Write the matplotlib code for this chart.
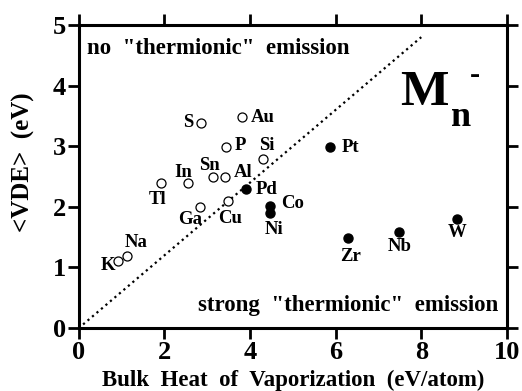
import numpy as np
import matplotlib
matplotlib.use('Agg')
from matplotlib import pyplot as plt

# open circles
open_names = ['K', 'Na', 'Tl', 'In', 'Ga', 'S', 'Sn', 'Al', 'Cu', 'P', 'Au', 'Si']
open_x = [0.92, 1.13, 1.91, 2.54, 2.82, 2.86, 3.14, 3.41, 3.49, 3.45, 3.82, 4.30]
open_y = [1.10, 1.19, 2.39, 2.39, 1.99, 3.38, 2.49, 2.49, 2.09, 2.99, 3.48, 2.79]

# filled circles
fill_names = ['Pd', 'Co', 'Ni', 'Pt', 'Zr', 'Nb', 'W']
fill_x = [3.91, 4.46, 4.46, 5.86, 6.30, 7.47, 8.83]
fill_y = [2.29, 2.01, 1.90, 2.99, 1.49, 1.59, 1.80]

# label positions
lab_pos = {
    'K': (0.68, 1.04), 'Na': (1.33, 1.41), 'Tl': (1.83, 2.12), 'In': (2.44, 2.57),
    'Sn': (3.06, 2.68), 'Al': (3.84, 2.57), 'Ga': (2.59, 1.79), 'Cu': (3.53, 1.81),
    'S': (2.55, 3.39), 'Au': (4.30, 3.48), 'P': (3.77, 3.02), 'Si': (4.40, 3.02),
    'Pd': (4.38, 2.29), 'Co': (4.99, 2.05), 'Ni': (4.55, 1.63), 'Pt': (6.35, 2.98),
    'Zr': (6.34, 1.18), 'Nb': (7.49, 1.35), 'W': (8.84, 1.57),
}

line_x = [0.1, 8.0]
line_y = [0.06, 4.8]

plt.rcParams['font.family'] = 'Liberation Serif'
plt.rcParams['font.weight'] = 'bold'

fig = plt.figure(figsize=(5.22, 3.91), dpi=100)
ax = fig.add_axes([0.151, 0.161, 0.820, 0.775])

ax.plot(line_x, line_y, color='black', linestyle=':', lw=1.6)
ax.plot(open_x, open_y, 'o', mfc='white', mec='black', ms=6.5, mew=0.9)
ax.plot(fill_x, fill_y, 'o', mfc='black', mec='black', ms=6.5)

for name, (lx, ly) in lab_pos.items():
    ax.text(lx, ly, name, fontsize=13.5, fontweight='bold', ha='center', va='center')

ax.text(0.19, 4.62, 'no  "thermionic"  emission', fontsize=16.5, fontweight='bold',
        ha='left', va='center')
ax.text(9.79, 0.38, 'strong  "thermionic"  emission', fontsize=16.5, fontweight='bold',
        ha='right', va='center')

ax.text(7.5, 3.68, 'M', fontsize=37, fontweight='bold', ha='left', va='baseline')
ax.text(8.69, 3.33, 'n', fontsize=26, fontweight='bold', ha='left', va='baseline')
ax.text(9.25, 4.17, '-', fontsize=22, fontweight='bold', ha='center', va='center')

ax.set_xlim(0, 10)
ax.set_ylim(0, 5)
ax.set_xticks([0, 2, 4, 6, 8, 10])
ax.set_yticks([0, 1, 2, 3, 4, 5])
ax.tick_params(direction='out', length=8, width=2, labelsize=19, pad=1,
               top=True, right=True)
for s in ax.spines.values():
    s.set_linewidth(2.2)

ax.set_xlabel('Bulk  Heat  of  Vaporization  (eV/atom)', fontsize=16.5, fontweight='bold')
ax.xaxis.set_label_coords(0.5, -0.137)
ax.set_ylabel('<VDE>  (eV)', fontsize=18, fontweight='bold')
ax.yaxis.set_label_coords(-0.103, 0.548)

fig.savefig('out.png', dpi=100)
